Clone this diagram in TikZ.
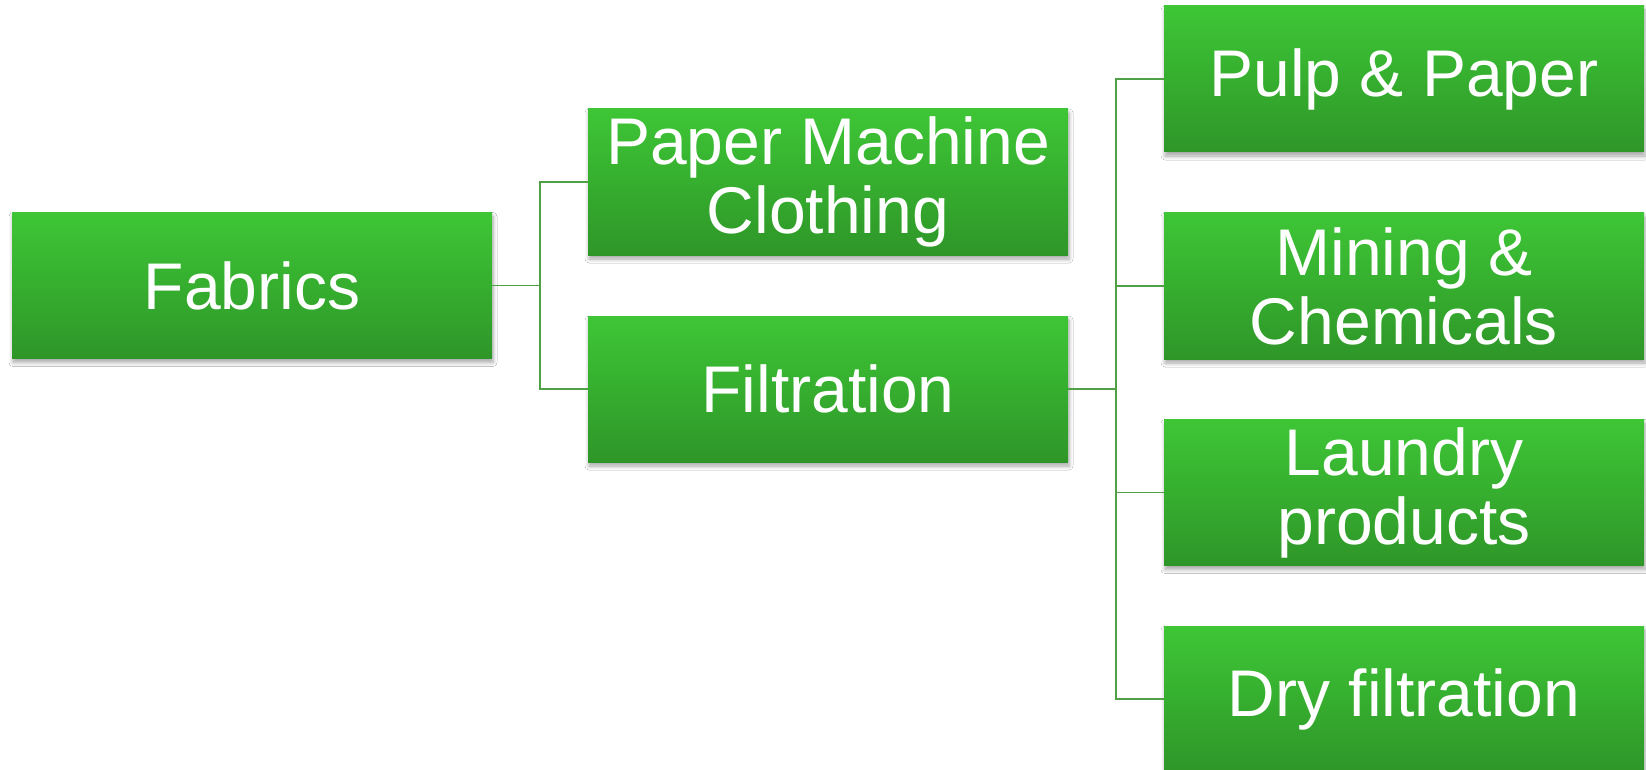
\documentclass[tikz,border=0pt]{standalone}
\usepackage{fontspec}
\setmainfont{Liberation Sans}
\usetikzlibrary{shadows.blur,calc}
\definecolor{gtop}{RGB}{62,198,54}
\definecolor{gbot}{RGB}{46,150,40}
\definecolor{lineg}{RGB}{80,160,70}
\tikzset{
  box/.style={rectangle, minimum width=480pt, minimum height=146pt, inner sep=0pt,
    top color=gtop, bottom color=gbot, draw=none, text=white, align=center,
    font=\fontsize{66}{69}\selectfont,
    blur shadow={shadow blur steps=6, shadow xshift=1pt, shadow yshift=-4pt, shadow opacity=35, shadow blur radius=4pt}},
  conn/.style={draw=lineg, line width=1.6pt}
}
\begin{document}
\begin{tikzpicture}[x=1pt,y=-1pt]
\useasboundingbox (0,0) rectangle (1646,770);
\fill[white] (0,0) rectangle (1646,770);
\node[box] (fab) at (252,285.5) {Fabrics};
\node[box] (pmc) at (828,182) {Paper Machine\\Clothing};
\node[box] (filt) at (828,389) {Filtration};
\node[box] (pulp) at (1404,79) {Pulp \& Paper};
\node[box] (mine) at (1404,286) {Mining \&\\Chemicals};
\node[box] (laun) at (1404,492.5) {Laundry\\products};
\node[box] (dry) at (1404,699) {Dry filtration};
\coordinate (j1) at ($(fab.east)+(48,0)$);
\coordinate (j2) at ($(filt.east)+(48,0)$);
\draw[conn] (fab.east) -- (j1);
\draw[conn] (pmc.west) -| (j1);
\draw[conn] (filt.west) -| (j1);
\draw[conn] (filt.east) -- (j2);
\draw[conn] (pulp.west) -| (j2);
\draw[conn] (mine.west) -| (j2);
\draw[conn] (laun.west) -| (j2);
\draw[conn] (dry.west) -| (j2);
\end{tikzpicture}
\end{document}
